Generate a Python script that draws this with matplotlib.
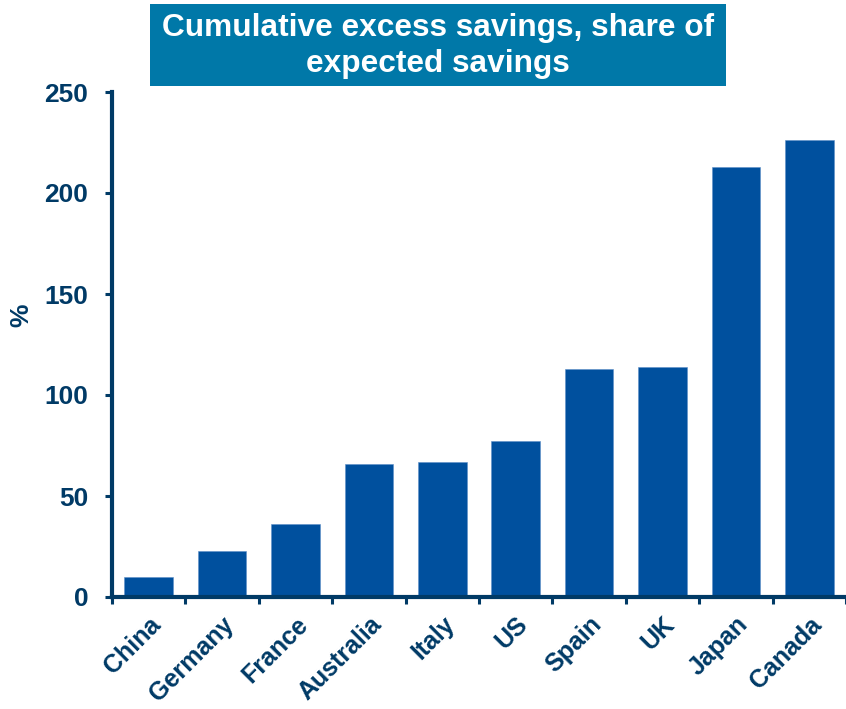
import matplotlib.pyplot as plt
from matplotlib.patches import Rectangle

# Datos
paises = ['China', 'Germany', 'France', 'Australia', 'Italy', 'US', 'Spain', 'UK', 'Japan', 'Canada']
valores = [10, 23, 36, 66, 67, 77, 113, 114, 213, 226]
yticks = [0, 50, 100, 150, 200, 250]
titulo = 'Cumulative excess savings, share of\nexpected savings'

# Colores
azul_barra = '#00509E'
azul_texto = '#003A66'
azul_titulo = '#0078A8'

plt.rcParams['font.family'] = ['Liberation Sans', 'DejaVu Sans']
plt.rcParams['font.weight'] = 'bold'

fig = plt.figure(figsize=(8.46, 7.09), dpi=100)
ax = fig.add_axes([112 / 846, 112 / 709, 1 - 112 / 846, (597 - 92) / 709])

x = range(len(paises))
ax.bar(x, valores, width=0.66, color=azul_barra, edgecolor='#5E8FC8', linewidth=0.4, zorder=2)

ax.set_ylim(0, 250)
ax.set_xlim(-0.5, 9.42)
ax.set_yticks(yticks)
ax.set_yticklabels([str(v) for v in yticks], fontsize=19, fontweight='bold', color=azul_texto)

# Ticks del eje x entre categorias, etiquetas en el centro
ax.set_xticks([i - 0.5 for i in range(len(paises) + 1)])
ax.set_xticklabels([])
ax.set_xticks(list(x), minor=True)
ax.set_xticklabels(paises, minor=True, rotation=45, ha='right', va='top', rotation_mode='anchor',
                   fontsize=18, fontweight='bold', color=azul_texto)
ax.tick_params(axis='x', which='minor', length=0, pad=11)
ax.tick_params(axis='x', which='major', length=5, width=2.2, color=azul_texto, direction='out')
ax.tick_params(axis='y', length=5, width=2.2, color=azul_texto, direction='out', pad=12)

for lado in ['top', 'right']:
    ax.spines[lado].set_visible(False)
for lado in ['left', 'bottom']:
    ax.spines[lado].set_linewidth(3)
    ax.spines[lado].set_color(azul_texto)

ax.set_ylabel('%', fontsize=19, fontweight='bold', color=azul_texto)
ax.yaxis.set_label_coords(-0.1076, 0.558)

# Caja del titulo
fig.patches.append(Rectangle((150 / 846, 1 - 86 / 709), 576 / 846, 82 / 709,
                             transform=fig.transFigure, facecolor=azul_titulo, edgecolor='none'))
fig.text(438 / 846, 1 - 46 / 709, titulo, ha='center', va='center', fontsize=22.8,
         fontweight='bold', color='white', linespacing=1.3)

plt.savefig('out.png', dpi=100)
